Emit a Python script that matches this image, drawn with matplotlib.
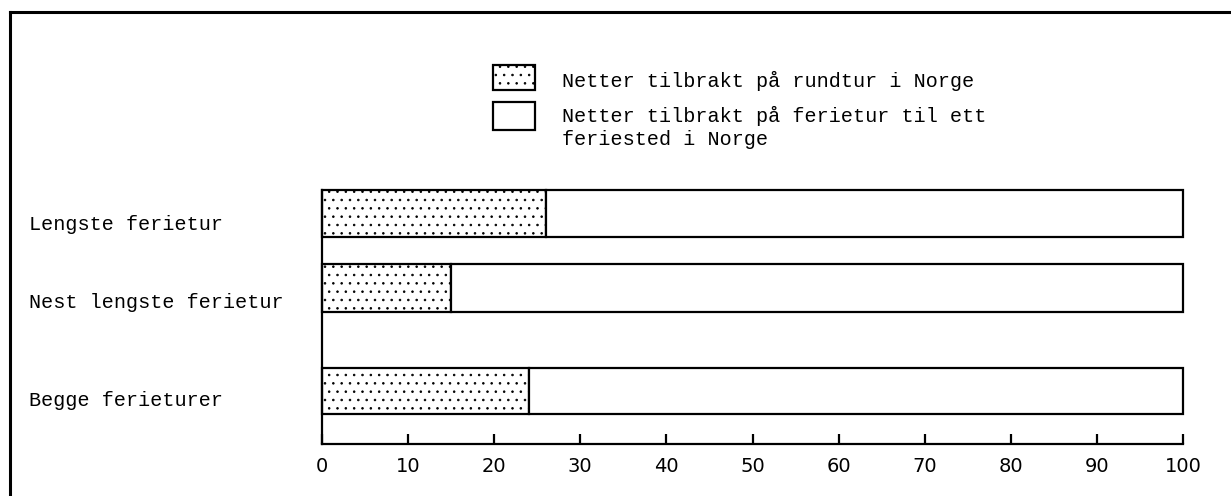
import matplotlib
matplotlib.use("Agg")
import matplotlib.pyplot as plt
from matplotlib.patches import Rectangle
from matplotlib.lines import Line2D

# data
categories = ["Lengste ferietur", "Nest lengste ferietur", "Begge ferieturer"]
rundtur = [26, 15, 24]
feriested = [74, 85, 76]
legend_labels = ["Netter tilbrakt på rundtur i Norge",
                 "Netter tilbrakt på ferietur til ett\nferiested i Norge"]
xticks = list(range(0, 101, 10))

W, H = 1231, 496
plt.rcParams["hatch.color"] = "black"
plt.rcParams["hatch.linewidth"] = 0.6
mono = "Liberation Mono"

fig = plt.figure(figsize=(W / 100, H / 100), dpi=100)


def fx(x):
    return x / W


def fy(y):
    return 1 - y / H


# axes placed to match the scanned layout (y in pixel-ish units from baseline)
ax = fig.add_axes([fx(322), fy(444), fx(1183) - fx(322), fy(190) - fy(444)])
ypos = [230.5, 156, 53]
heights = [47, 48, 46]

b1 = ax.barh(ypos, rundtur, height=heights, color="white", edgecolor="black",
             linewidth=1.6, hatch="..")
b2 = ax.barh(ypos, feriested, left=rundtur, height=heights, color="white",
             edgecolor="black", linewidth=1.6)
for p in list(b1) + list(b2):
    p.set_clip_on(False)

ax.set_xlim(0, 100)
ax.set_ylim(0, 254)
ax.spines["top"].set_visible(False)
ax.spines["right"].set_visible(False)
ax.spines["left"].set_linewidth(1.6)
ax.spines["bottom"].set_linewidth(1.6)
ax.set_yticks([])
ax.set_xticks(xticks)
ax.set_xticklabels([str(t) for t in xticks], fontsize=14, family="DejaVu Sans")
ax.tick_params(axis="x", direction="in", length=7, width=1.6, pad=9)

# category labels
label_base = [230, 308, 406]
for lab, yb in zip(categories, label_base):
    fig.text(fx(29), fy(yb), lab, family=mono, fontsize=14.5, va="baseline")

# legend drawn by hand
fig.patches.append(Rectangle((fx(493), fy(90)), fx(535) - fx(493), fy(65) - fy(90),
                             transform=fig.transFigure, facecolor="white",
                             edgecolor="black", linewidth=1.6, hatch=".."))
fig.patches.append(Rectangle((fx(493), fy(130)), fx(535) - fx(493), fy(102) - fy(130),
                             transform=fig.transFigure, facecolor="white",
                             edgecolor="black", linewidth=1.6))
fig.text(fx(562), fy(87), legend_labels[0], family=mono, fontsize=14.5, va="baseline")
fig.text(fx(562), fy(145), legend_labels[1], family=mono, fontsize=14.5,
         va="baseline", linespacing=1.25)

# outer frame (top and left only, as in the scan)
fig.add_artist(Line2D([fx(10), 1], [fy(12), fy(12)], color="black", linewidth=2.2))
fig.add_artist(Line2D([fx(10), fx(10)], [0, fy(12)], color="black", linewidth=2.2))

fig.savefig("out.png", dpi=100, facecolor="white")
